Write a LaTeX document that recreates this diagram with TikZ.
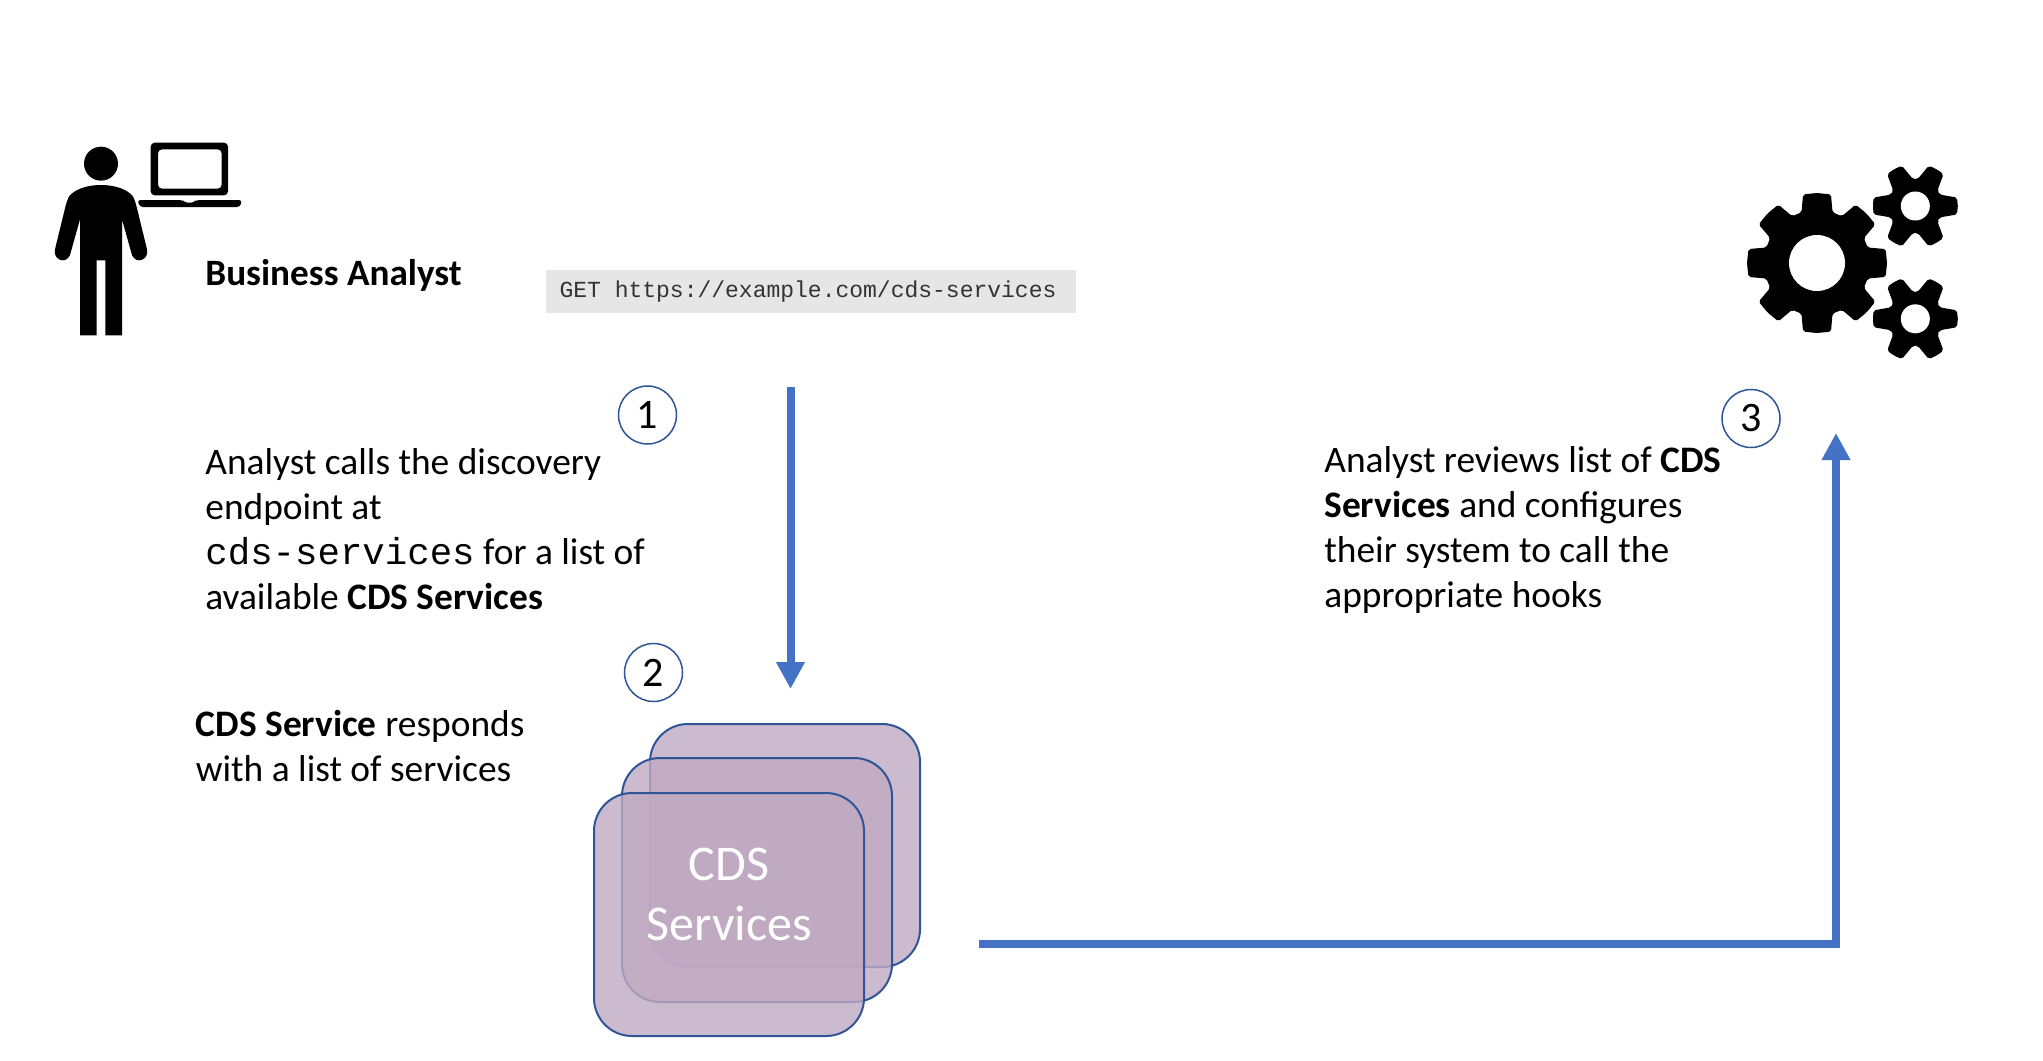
\documentclass[tikz,border=0pt]{standalone}
\usepackage{fontspec}
\setmainfont{Carlito}
\setmonofont{Liberation Mono}
\usetikzlibrary{arrows.meta}
\definecolor{flowblue}{HTML}{4472C4}
\definecolor{ringblue}{HTML}{2F5597}
\definecolor{cardfill}{HTML}{C0AAC2}
\definecolor{codegray}{HTML}{E6E6E6}
\definecolor{codetext}{HTML}{333333}
\tikzset{
  txt/.style={anchor=north west,inner sep=0pt,align=left,font=\fontsize{18.7pt}{22.5pt}\selectfont,text=black},
  ring/.style={circle,draw=ringblue,line width=0.75pt,fill=white,minimum size=29pt,inner sep=0pt,font=\fontsize{21pt}{24pt}\selectfont},
  card/.style={rounded corners=19pt,draw=ringblue,line width=1pt,fill=cardfill,fill opacity=0.8,draw opacity=1},
  flow/.style={draw=flowblue,line width=4pt,line join=miter,-{Triangle[length=13.5pt,width=13.5pt]}},
  icon/.style={fill=black,draw=none}
}
\newcommand{\mygear}[8]{% cx cy teeth Rtip Rroot halfTip halfRoot Rhole
  \fill[icon,rounded corners=1pt]
    ({#1+#4},{#2})
    \foreach \k [evaluate=\k as \a using \k*360/#3,evaluate=\k as \b using (\k+1)*360/#3] in {0,...,\numexpr#3-1\relax} {
      -- ({#1+#4*cos(\a+#6)},{#2-#4*sin(\a+#6)})
      -- ({#1+#5*cos(\a+#7)},{#2-#5*sin(\a+#7)})
      -- ({#1+#5*cos(\b-#7)},{#2-#5*sin(\b-#7)})
      -- ({#1+#4*cos(\b-#6)},{#2-#4*sin(\b-#6)})
      -- ({#1+#4*cos(\b)},{#2-#4*sin(\b)})
    };
  \fill[white] (#1,#2) circle[radius=#8];
}
\begin{document}
\begin{tikzpicture}[x=0.5pt,y=-0.5pt]
\path[use as bounding box,fill=white] (0,0) rectangle (2043,1060);

% person and laptop
\begin{scope}[shift={(30,121)},x=0.16667pt,y=-0.16667pt]
  \fill[icon] (213,128) circle[radius=51];
  \fill[icon] (213,192) .. controls (170,192) and (135,205) .. (118,225)
    .. controls (112,235) and (108,250) .. (105,262)
    -- (75,385) .. controls (70,405) and (85,418) .. (98,418)
    .. controls (110,418) and (120,408) .. (122,395)
    -- (150,295) -- (150,643) -- (200,643) -- (200,418) -- (226,418)
    -- (226,643) -- (276,643) -- (276,295)
    -- (304,395) .. controls (306,408) and (316,418) .. (328,418)
    .. controls (341,418) and (356,405) .. (351,385)
    -- (321,262) .. controls (318,250) and (314,235) .. (308,225)
    .. controls (291,205) and (256,192) .. (213,192) -- cycle;
  \fill[icon,even odd rule,rounded corners=2pt]
    (362,223) -- (362,65) -- (594,65) -- (594,223) -- cycle
    (384,203) -- (575,203) -- (575,85) -- (384,85) -- cycle;
  \fill[icon,rounded corners=1.5pt]
    (322,237) -- (458,237) -- (464,245) -- (492,245) -- (498,237) -- (636,237)
    -- (630,258) -- (330,258) -- cycle;
\end{scope}

% gears
\mygear{1817}{263}{8}{70}{53}{11.5}{17}{28}
\mygear{1915.3}{206}{6}{42.5}{27}{11.5}{25}{14.5}
\mygear{1915.3}{318.8}{6}{42.5}{27}{11.5}{25}{14.5}

% code box
\node[fill=codegray,minimum width=265pt,minimum height=21.5pt,inner sep=0pt,anchor=center,
      font=\ttfamily\fontsize{11.5pt}{14pt}\selectfont,text=codetext] (code) at (811,291.5)
      {\raisebox{-0.5pt}{GET https://example.com/cds-services}\kern3pt};

% text
\node[txt,font=\bfseries\fontsize{18.6pt}{22.5pt}\selectfont] (role) at (205,259) {Business Analyst};
\node[txt] (step1) at (205,448) {Analyst calls the discovery\\endpoint at\\{\ttfamily cds-services} for a list of\\available \textbf{CDS Services}};
\node[txt] (step2) at (195.5,710) {\textbf{CDS Service} responds\\with a list of services};
\node[txt] (step3) at (1324,446) {Analyst reviews list of \textbf{CDS}\\\textbf{Services} and configures\\their system to call the\\appropriate hooks};

% numbered rings
\node[ring] (one) at (647.5,415) {1};
\node[ring] (two) at (653.5,672.5) {2};
\node[ring] (three) at (1751,418.5) {3};

% cards
\draw[card] (650,724) rectangle (920,967);
\draw[card] (622,758) rectangle (892,1002);
\draw[card] (594,793) rectangle (864,1036);
\node[inner sep=0pt,align=center,text=white,font=\fontsize{25pt}{30pt}\selectfont] (cds) at (729,894) {CDS\\Services};

% connectors
\coordinate (downstart) at (790.5,387);
\coordinate (downend) at (790.5,689);
\coordinate (upstart) at (979,944);
\coordinate (upend) at (1836,433);
\draw[flow] (downstart) -- (downend);
\draw[flow] (upstart) -| (upend);
\end{tikzpicture}
\end{document}
